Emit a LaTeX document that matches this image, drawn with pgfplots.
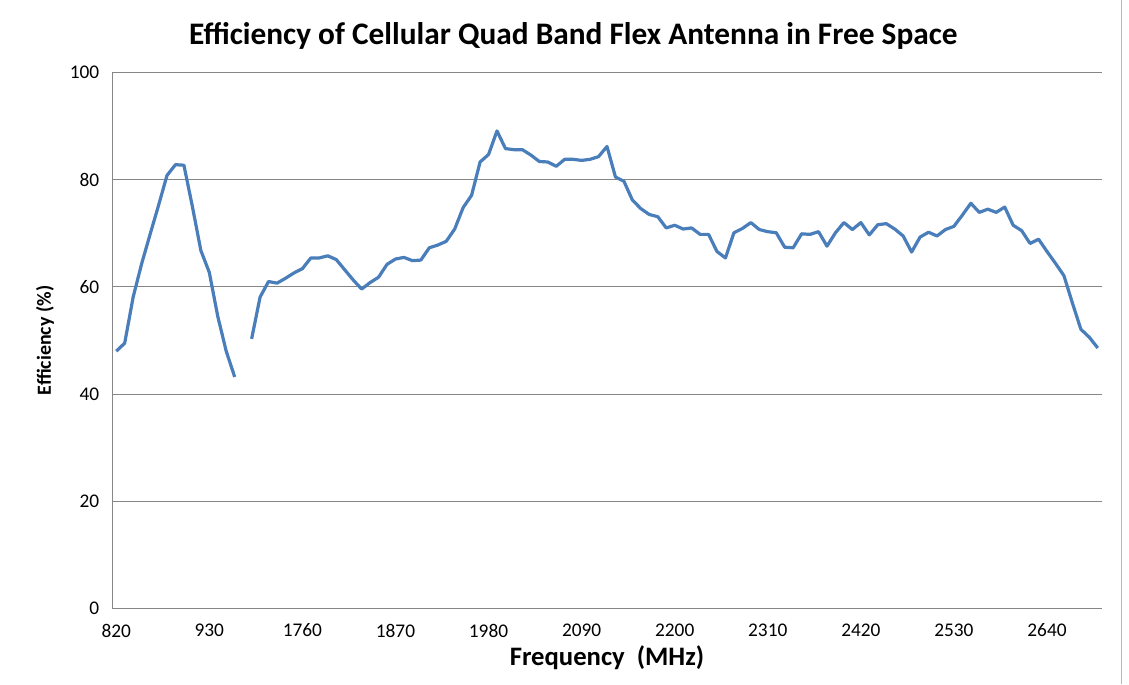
\documentclass[border=0pt]{standalone}
\usepackage{fontspec}
\setmainfont{Carlito}
\usepackage{pgfplots}
\pgfplotsset{compat=1.18}
\usepackage{pgfplotstable}
\definecolor{xlblue}{RGB}{74,126,187}
\definecolor{xlgrid}{RGB}{134,134,134}

% index 0-14: 820-960 MHz, index 15: gap, index 16-116: 1700-2700 MHz (10 MHz steps)
\pgfplotstableread{
i  eff
0  48.0
1  49.5
2  58.1
3  64.3
4  69.8
5  75.2
6  80.8
7  82.8
8  82.7
9  75.0
10 66.8
11 62.7
12 54.5
13 48.0
14 43.2
15 nan
16 50.3
17 58.1
18 61.0
19 60.7
20 61.6
21 62.6
22 63.4
23 65.4
24 65.4
25 65.8
26 65.1
27 63.2
28 61.3
29 59.6
30 60.8
31 61.8
32 64.2
33 65.2
34 65.5
35 64.9
36 65.0
37 67.3
38 67.8
39 68.5
40 70.8
41 74.8
42 77.1
43 83.3
44 84.7
45 89.1
46 85.8
47 85.6
48 85.6
49 84.6
50 83.4
51 83.3
52 82.5
53 83.8
54 83.8
55 83.6
56 83.8
57 84.3
58 86.2
59 80.5
60 79.7
61 76.2
62 74.6
63 73.5
64 73.1
65 71.0
66 71.5
67 70.8
68 71.0
69 69.8
70 69.8
71 66.6
72 65.4
73 70.1
74 70.9
75 72.0
76 70.7
77 70.3
78 70.1
79 67.4
80 67.3
81 69.9
82 69.8
83 70.3
84 67.6
85 70.1
86 72.0
87 70.7
88 72.0
89 69.7
90 71.6
91 71.8
92 70.8
93 69.5
94 66.5
95 69.3
96 70.2
97 69.5
98 70.7
99 71.3
100 73.4
101 75.6
102 73.9
103 74.5
104 73.9
105 74.9
106 71.5
107 70.5
108 68.1
109 68.9
110 66.6
111 64.4
112 62.1
113 57.0
114 52.1
115 50.6
116 48.6
}\effdata

\begin{document}
\begin{tikzpicture}
\path (0,0) rectangle (846.75pt,513pt);
\draw[gray!55, line width=0.75pt] (840.75pt,0) -- (840.75pt,513pt);
\begin{axis}[
    at={(84pt,57pt)}, anchor=south west,
    scale only axis, width=742.5pt, height=402pt,
    xmin=-0.5, xmax=116.5, ymin=0, ymax=100,
    xtick={0,11,...,110},
    xticklabels={820,930,1760,1870,1980,2090,2200,2310,2420,2530,2640},
    ytick={0,20,...,100},
    ymajorgrids, grid style={xlgrid, line width=0.6pt},
    axis x line*=bottom, axis y line*=left,
    axis line style={xlgrid, line width=0.6pt, -},
    tick style={draw=none},
    ticklabel style={font=\fontsize{14.5}{17}\selectfont, black},
    yticklabel style={xshift=-6pt},
    xticklabel style={yshift=-8pt},
    /pgf/number format/assume math mode=true,
    unbounded coords=jump,
    title={Efficiency of Cellular Quad Band Flex Antenna in Free Space},
    title style={font=\bfseries\fontsize{23.5}{28}\selectfont, at={(axis description cs:0.466,1)}, anchor=base, yshift=15pt},
    xlabel={Frequency~~(MHz)},
    xlabel style={font=\bfseries\fontsize{20}{24}\selectfont, at={(axis description cs:0.5,0)}, anchor=base, yshift=-43pt},
    ylabel={Efficiency (\%)},
    ylabel style={font=\bfseries\fontsize{15}{18}\selectfont, at={(axis description cs:-0.0677,0.5)}, anchor=center},
]
\addplot[xlblue, line width=2.4pt, line join=round] table[x=i, y=eff] {\effdata};
\end{axis}
\end{tikzpicture}
\end{document}
